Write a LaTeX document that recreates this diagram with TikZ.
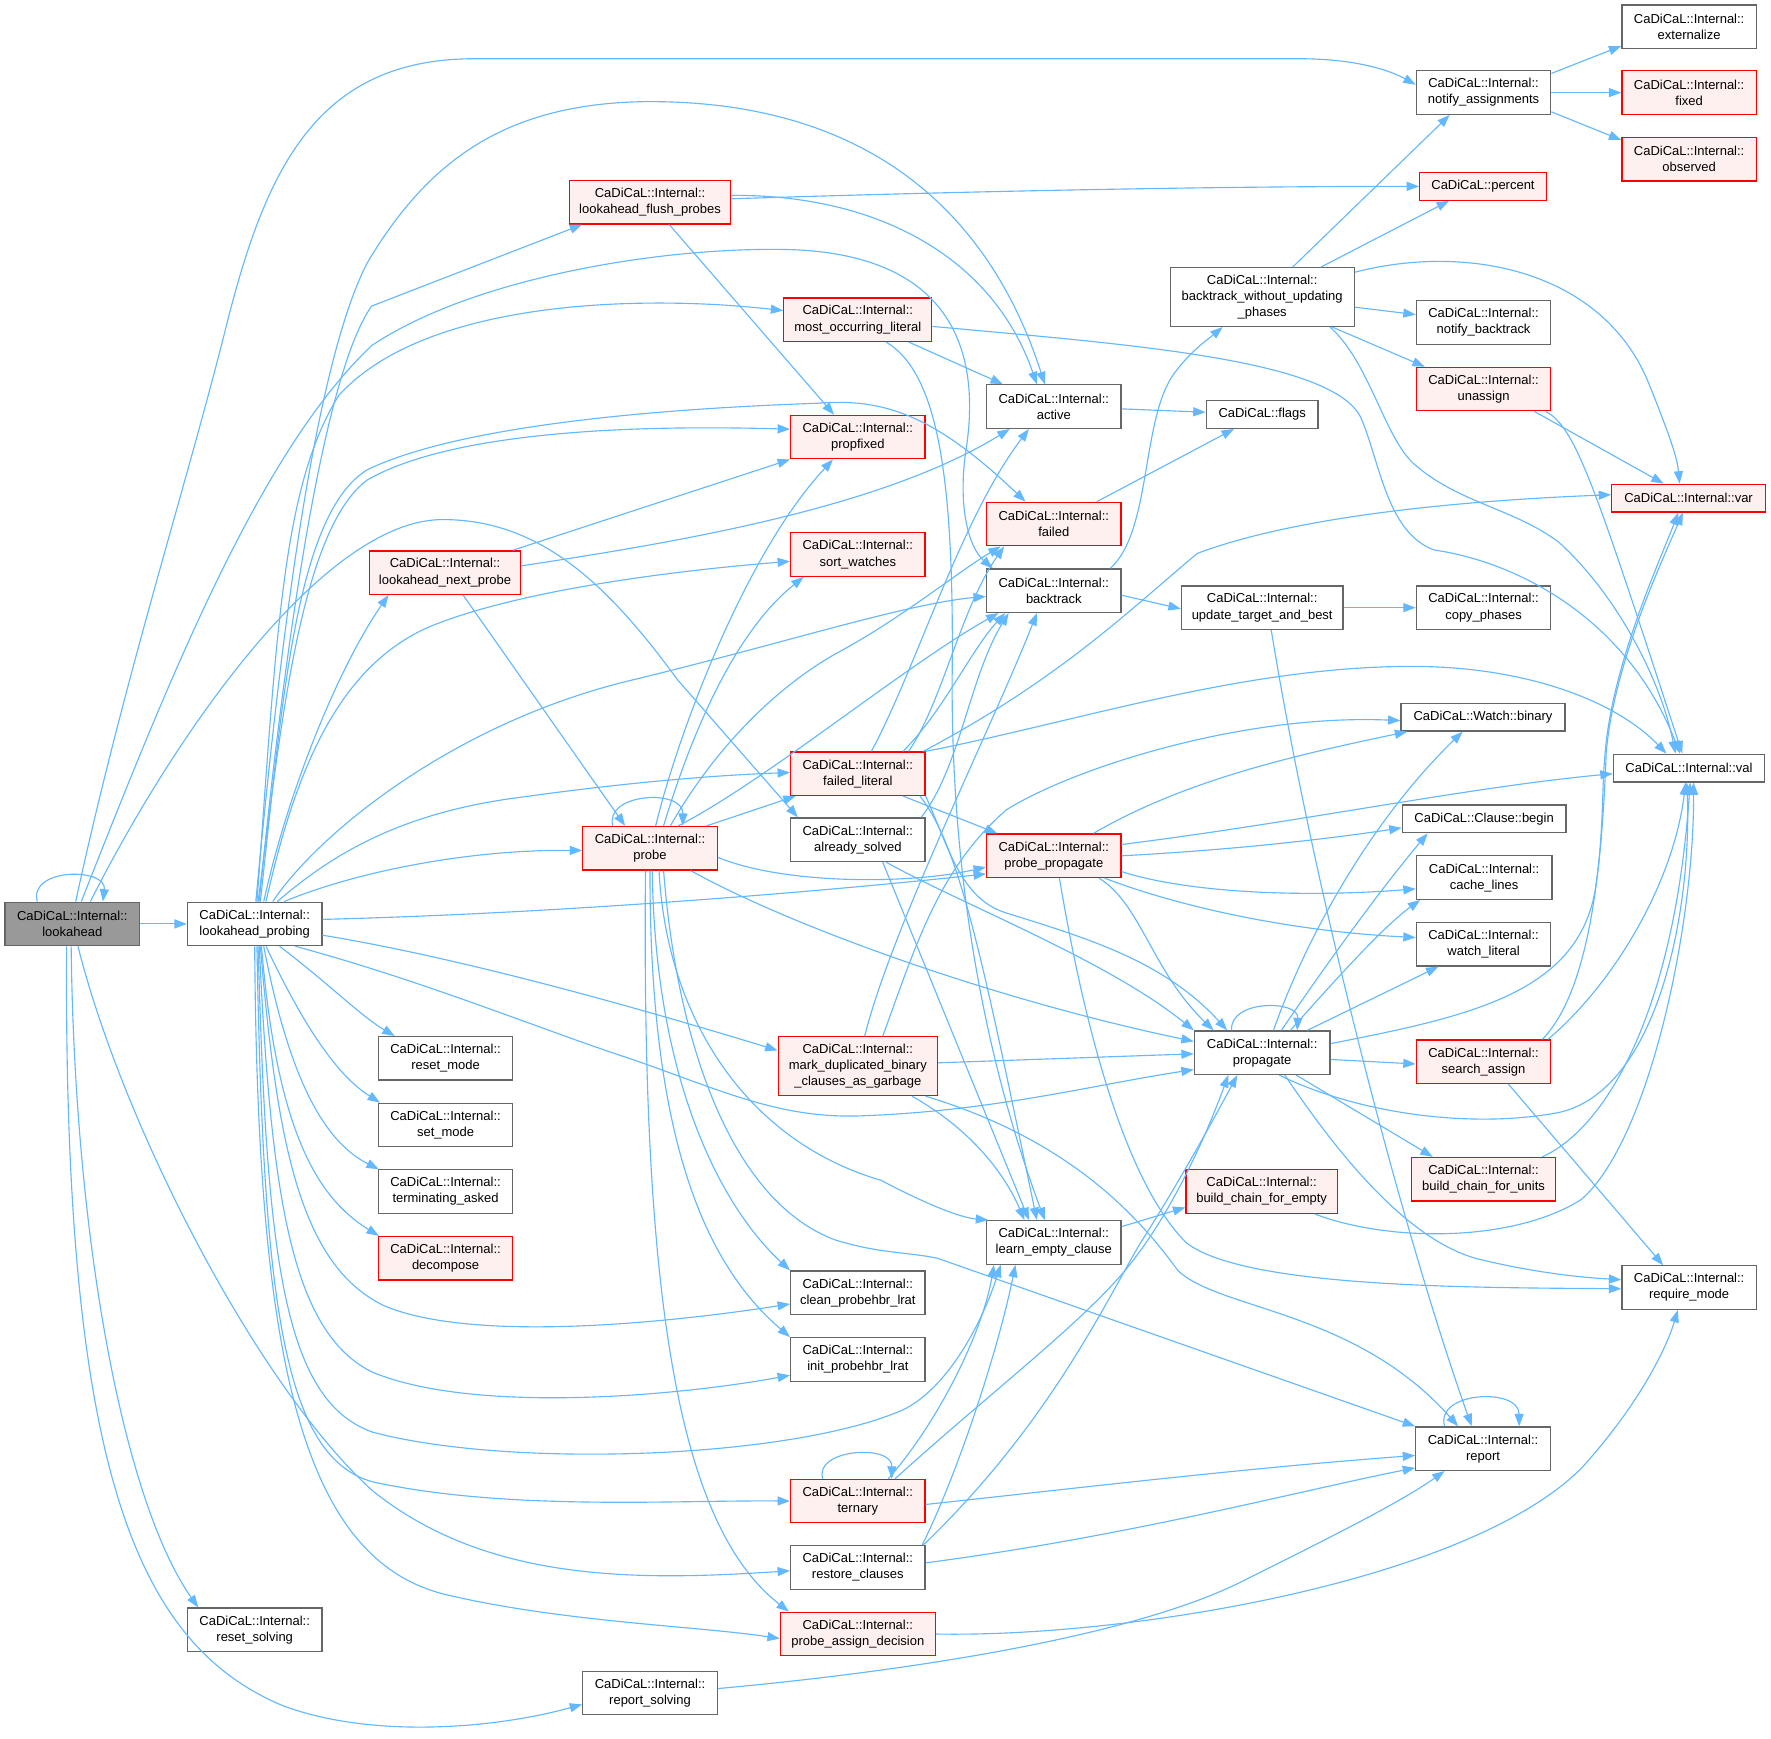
\documentclass[tikz,border=0pt]{standalone}
\usepackage{fontspec}
\setmainfont{Liberation Sans}
\usetikzlibrary{arrows.meta}
\definecolor{edgeblue}{HTML}{63B8FF}
\definecolor{nodegray}{HTML}{666666}
\definecolor{rootfill}{HTML}{999999}
\definecolor{redfill}{HTML}{FFF0F0}
\newcommand{\cdi}{CaDiCaL::Internal::}
\newcommand{\fnfont}{\fontsize{11.5}{14.2}\selectfont}
\tikzset{
  fn/.style={draw=nodegray, fill=white, line width=1.1pt, align=center, inner sep=0pt,
    minimum width=119pt, minimum height=38.5pt, font=\fnfont},
  fnred/.style={fn, draw=red, fill=redfill},
  fnroot/.style={fn, fill=rootfill},
  oneline/.style={minimum height=24.5pt},
  threeline/.style={minimum height=52pt},
  call/.style={draw=edgeblue, line width=1pt, -{Triangle[length=11pt,width=8pt]}}
}
\begin{document}
\begin{tikzpicture}[x=1pt,y=-1pt]
\path[use as bounding box, fill=white] (0,0) rectangle (1568,1539);
\node[fnroot] (la) at (64,818) {\cdi\\lookahead};
\node[fn] (lp) at (225.5,818) {\cdi\\lookahead\_probing};
\node[fn] (rs) at (225.5,1443) {\cdi\\reset\_solving};
\node[fn] (rps) at (575.5,1499) {\cdi\\report\_solving};
\node[fnred, minimum width=143pt] (lfp) at (575.5,179) {\cdi\\lookahead\_flush\_probes};
\node[fnred, minimum width=134pt] (lnp) at (394,507) {\cdi\\lookahead\_next\_probe};
\node[fn] (rm) at (394.5,937) {\cdi\\reset\_mode};
\node[fn] (sm) at (394.5,996) {\cdi\\set\_mode};
\node[fn] (ta) at (394.5,1055) {\cdi\\terminating\_asked};
\node[fnred] (dc) at (394.5,1114) {\cdi\\decompose};
\node[fnred] (pr) at (575.5,751) {\cdi\\probe};
\node[fnred, minimum width=131pt] (mol) at (759.5,283) {\cdi\\most\_occurring\_literal};
\node[fnred] (pf) at (759.5,387) {\cdi\\propfixed};
\node[fnred] (sw) at (759.5,491) {\cdi\\sort\_watches};
\node[fnred] (fl) at (759.5,685) {\cdi\\failed\_literal};
\node[fn] (slv) at (759.5,743.5) {\cdi\\already\_solved};
\node[fnred, threeline, minimum width=141pt] (mdb) at (759.5,944) {\cdi\\mark\_duplicated\_binary\\\_clauses\_as\_garbage};
\node[fn] (cpl) at (759.5,1144.5) {\cdi\\clean\_probehbr\_lrat};
\node[fn] (ipl) at (759.5,1203.6) {\cdi\\init\_probehbr\_lrat};
\node[fnred] (ter) at (759.5,1329) {\cdi\\ternary};
\node[fn] (rc) at (759.5,1387.7) {\cdi\\restore\_clauses};
\node[fnred, minimum width=137pt] (pad) at (759.5,1446.7) {\cdi\\probe\_assign\_decision};
\node[fn] (act) at (933,360) {\cdi\\active};
\node[fnred] (fd) at (933,464) {\cdi\\failed};
\node[fn] (bt) at (933,523) {\cdi\\backtrack};
\node[fnred] (pp) at (933,757.7) {\cdi\\probe\_propagate};
\node[fn] (lec) at (933,1100) {\cdi\\learn\_empty\_clause};
\node[fn, threeline, minimum width=163pt] (bwu) at (1117.5,263) {\cdi\\backtrack\_without\_updating\\\_phases};
\node[fn, oneline, minimum width=99pt] (fg) at (1117.5,367) {CaDiCaL::flags};
\node[fn, minimum width=143pt] (utb) at (1117.5,538) {\cdi\\update\_target\_and\_best};
\node[fn, minimum width=120pt] (prop) at (1117.5,932) {\cdi\\propagate};
\node[fnred, minimum width=134pt] (bce) at (1117,1055) {\cdi\\build\_chain\_for\_empty};
\node[fn] (na) at (1313.5,82) {\cdi\\notify\_assignments};
\node[fnred, oneline, minimum width=112pt] (pc) at (1313,165) {CaDiCaL::percent};
\node[fn] (nb) at (1313.5,285.5) {\cdi\\notify\_backtrack};
\node[fnred] (ua) at (1313.5,344.5) {\cdi\\unassign};
\node[fn] (cp) at (1313.5,538) {\cdi\\copy\_phases};
\node[fn, oneline, minimum width=145pt] (wb) at (1313,635) {CaDiCaL::Watch::binary};
\node[fn, oneline, minimum width=145pt] (cb) at (1314,725) {CaDiCaL::Clause::begin};
\node[fn, minimum width=120pt] (cl) at (1314,777) {\cdi\\cache\_lines};
\node[fn] (wl) at (1313.5,836) {\cdi\\watch\_literal};
\node[fnred] (sa) at (1313.5,940) {\cdi\\search\_assign};
\node[fnred, minimum width=127pt] (bcu) at (1313.5,1044) {\cdi\\build\_chain\_for\_units};
\node[fn] (rep) at (1313,1282.6) {\cdi\\report};
\node[fn] (ext) at (1495.5,23.7) {\cdi\\externalize};
\node[fnred] (fx) at (1495.5,82) {\cdi\\fixed};
\node[fnred] (obs) at (1495.5,141) {\cdi\\observed};
\node[fnred, oneline, minimum width=136pt] (var) at (1495,441) {CaDiCaL::Internal::var};
\node[fn, oneline, minimum width=134pt] (val) at (1495.4,680) {CaDiCaL::Internal::val};
\node[fn] (rqm) at (1495.5,1140) {\cdi\\require\_mode};
% lookahead
\draw[call] ([xshift=-31pt]la.north) .. controls (25,768) and (95,768) .. ([xshift=27pt]la.north);
\draw[call] (la.east) -- (lp.west);
\draw[call] ([xshift=3pt]la.north) .. controls (110,600) and (165,430) .. (200,290) .. controls (235,150) and (280,52) .. (420,52) -- (1150,52) .. controls (1200,52) and (1230,62) .. ([yshift=7pt]na.west);
\draw[call] ([xshift=8pt]la.north) .. controls (150,600) and (230,400) .. (329,306) .. controls (420,245) and (590,218) .. (700,221) .. controls (850,226) and (868,320) .. (855,400) .. controls (848,450) and (858,485) .. ([xshift=6pt]bt.north west);
\draw[call] ([xshift=16pt]la.north) .. controls (160,640) and (290,460) .. (392,460) .. controls (480,460) and (540,520) .. (600,602) -- ([xshift=7pt]slv.north west);
\draw[call] ([xshift=5pt]la.south) .. controls (110,1000) and (230,1230) .. (330,1320) .. controls (430,1400) and (560,1400) .. ([yshift=-3pt]rc.west);
\draw[call] ([xshift=-1pt]la.south) .. controls (66,1100) and (110,1330) .. ([xshift=-50pt]rs.north);
\draw[call] ([xshift=-5pt]la.south) .. controls (56,1300) and (120,1455) .. (250,1510) .. controls (330,1540) and (440,1530) .. ([yshift=-10pt]rps.west);
% lookahead_probing
\draw[call] ([xshift=4pt]lp.north) .. controls (245,640) and (280,340) .. (329,271) -- ([xshift=12pt]lfp.south west);
\draw[call] ([xshift=1pt]lp.north) .. controls (245,600) and (275,330) .. (325,233) .. controls (380,140) and (450,92) .. (570,90) .. controls (780,88) and (880,200) .. ([xshift=-8pt]act.north);
\draw[call] ([xshift=2pt]lp.north) .. controls (245,560) and (250,430) .. (300,350) .. controls (380,262) and (580,262) .. ([yshift=8pt]mol.west);
\draw[call] ([xshift=3pt]lp.north) .. controls (248,650) and (265,470) .. (325,425) .. controls (400,382) and (560,376) .. ([yshift=7pt]pf.west);
\draw[call] ([xshift=5pt]lp.north) .. controls (250,620) and (262,455) .. (325,416) .. controls (420,370) and (640,360) .. (724,357) .. controls (785,352) and (830,370) .. ([xshift=-25pt]fd.north);
\draw[call] ([xshift=8pt]lp.north) .. controls (255,700) and (300,590) .. ([xshift=-50pt]lnp.south);
\draw[call] ([xshift=10pt]lp.north) .. controls (262,680) and (300,590) .. (380,555) .. controls (460,522) and (600,505) .. ([yshift=-6pt]sw.west);
\draw[call] ([xshift=16pt]lp.north) .. controls (280,740) and (400,640) .. (560,602) .. controls (700,568) and (800,535) .. ([yshift=-5pt]bt.west);
\draw[call] ([xshift=20pt]lp.north) .. controls (290,760) and (350,720) .. (460,706) .. controls (560,692) and (640,686) .. ([yshift=1pt]fl.west);
\draw[call] ([xshift=26pt]lp.north) .. controls (320,770) and (420,752) .. ([yshift=-2pt]pr.west);
\draw[call] ([yshift=4pt]lp.east) .. controls (520,808) and (760,786) .. ([yshift=-16pt]pp.west);
\draw[call] ([yshift=-10pt]lp.east) .. controls (420,850) and (590,900) .. ([yshift=14pt]mdb.west);
\draw[call] ([xshift=36pt]lp.south) .. controls (380,870) and (480,912) .. (560,938) .. controls (640,966) and (690,990) .. (760,988) .. controls (880,984) and (970,960) .. ([yshift=-15pt]prop.west);
\draw[call] ([xshift=22pt]lp.south) .. controls (290,870) and (320,900) .. ([xshift=-45pt]rm.north);
\draw[call] ([xshift=10pt]lp.south) .. controls (265,900) and (295,950) .. ([xshift=2pt]sm.north west);
\draw[call] ([xshift=8pt]lp.south) .. controls (255,950) and (285,1010) .. ([xshift=1pt]ta.north west);
\draw[call] ([xshift=6pt]lp.south) .. controls (245,1000) and (280,1060) .. ([xshift=1pt]dc.north west);
\draw[call] ([xshift=5pt]lp.south) .. controls (245,1010) and (265,1120) .. (340,1156) .. controls (420,1190) and (600,1170) .. ([yshift=-10pt]cpl.west);
\draw[call] ([xshift=4pt]lp.south) .. controls (240,1060) and (258,1180) .. (330,1215) .. controls (420,1252) and (600,1236) .. ([yshift=-14pt]ipl.west);
\draw[call] ([xshift=3pt]lp.south) .. controls (236,1110) and (250,1240) .. (330,1268) .. controls (450,1300) and (700,1292) .. (800,1248) .. controls (840,1228) and (870,1170) .. ([xshift=-47pt]lec.south);
\draw[call] ([xshift=2pt]lp.south) .. controls (233,1150) and (250,1290) .. (330,1312) .. controls (450,1338) and (600,1328) .. (ter.west);
\draw[call] (lp.south) .. controls (228,1200) and (265,1385) .. (400,1413) .. controls (500,1436) and (620,1440) .. ([yshift=-4pt]pad.west);
% lookahead_flush_probes, lookahead_next_probe, most_occurring_literal
\draw[call] ([yshift=3pt]lfp.east) .. controls (900,168) and (1100,165) .. (pc.west);
\draw[call] ([yshift=6pt]lfp.east) .. controls (780,172) and (880,230) .. ([xshift=-15pt]act.north);
\draw[call] ([xshift=17pt]lfp.south) -- ([xshift=-21pt]pf.north);
\draw[call] ([xshift=60pt]lnp.north) -- (pf.south west);
\draw[call] ([yshift=6pt]lnp.east) .. controls (600,480) and (780,450) .. ([xshift=-39pt]act.south);
\draw[call] ([xshift=16pt]lnp.south) -- ([xshift=-22pt]pr.north);
\draw[call] ([xshift=45pt]mol.south) -- ([xshift=-45pt]act.north);
\draw[call] ([yshift=-6pt]mol.east) .. controls (1000,305) and (1180,318) .. (1205,370) .. controls (1222,410) and (1228,472) .. (1270,487) .. controls (1340,497) and (1440,545) .. ([xshift=-8pt]val.north);
\draw[call] ([xshift=25pt]mol.south) .. controls (830,330) and (845,420) .. (843,600) .. controls (842,800) and (880,960) .. ([xshift=-8pt]lec.north);
% probe
\draw[call] ([xshift=-33pt]pr.north) .. controls (535,702) and (605,698) .. ([xshift=29pt]pr.north);
\draw[call] ([xshift=5pt]pr.north) .. controls (600,650) and (660,490) .. ([xshift=-22pt]pf.south);
\draw[call] ([xshift=12pt]pr.north) .. controls (612,650) and (650,560) .. ([xshift=-48pt]sw.south);
\draw[call] ([xshift=18pt]pr.north) .. controls (640,650) and (700,600) .. (745,576) .. controls (800,546) and (850,505) .. ([xshift=-47pt]fd.south);
\draw[call] ([xshift=25pt]pr.north) .. controls (680,690) and (800,590) .. ([xshift=-49pt]bt.south);
\draw[call] ([xshift=50pt]pr.north) -- ([xshift=-55pt]fl.south);
\draw[call] ([yshift=-8pt]pr.east) .. controls (690,782) and (800,784) .. ([yshift=-10pt]pp.west);
\draw[call] ([xshift=36pt]pr.south) .. controls (700,820) and (880,885) .. ([yshift=10pt]prop.west);
\draw[call] ([xshift=8pt]pr.south) .. controls (590,900) and (660,1010) .. (780,1045) .. controls (820,1066) and (850,1078) .. ([xshift=2pt]lec.north west);
\draw[call] ([xshift=12pt]pr.south) .. controls (600,930) and (650,1065) .. (740,1098) .. controls (780,1110) and (800,1108) .. (830,1114) -- (rep.north west);
\draw[call] ([xshift=2pt]pr.south) .. controls (580,960) and (640,1070) .. (cpl.north west);
\draw[call] (pr.south) .. controls (575,1010) and (625,1120) .. (ipl.north west);
\draw[call] ([xshift=-4pt]pr.south) .. controls (568,1150) and (600,1350) .. ([xshift=8pt]pad.north west);
% failed_literal, already_solved
\draw[call] ([xshift=12pt]fl.north) .. controls (812,590) and (850,460) .. ([xshift=-22pt]act.south);
\draw[call] ([xshift=45pt]fl.north) .. controls (835,620) and (850,540) .. ([xshift=-44pt]fd.south);
\draw[call] ([xshift=40pt]fl.north) .. controls (835,630) and (860,575) .. ([xshift=-43pt]bt.south);
\draw[call] ([xshift=58pt]fl.north) .. controls (940,600) and (1000,540) .. (1060,490) .. controls (1150,456) and (1300,443) .. ([yshift=3pt]var.west);
\draw[call] (fl.north east) .. controls (950,640) and (1100,590) .. (1250,590) .. controls (1350,590) and (1430,620) .. ([xshift=-20pt]val.north);
\draw[call] ([xshift=40pt]fl.south) -- ([xshift=-50pt]pp.north);
\draw[call] ([xshift=55pt]fl.south) .. controls (850,750) and (870,850) .. ([xshift=-15pt]lec.north);
\draw[call] (fl.south east) .. controls (840,750) and (850,795) .. (890,808) .. controls (960,830) and (1030,850) .. ([xshift=-31pt]prop.north);
\draw[call] ([xshift=56pt]slv.north) .. controls (850,680) and (858,600) .. ([xshift=-40pt]bt.south);
\draw[call] ([xshift=22pt]slv.south) -- ([xshift=-22pt]lec.north);
\draw[call] ([xshift=25pt]slv.south) .. controls (850,800) and (980,850) .. (prop.north west);
% failed, active, backtrack
\draw[call] ([xshift=38pt]fd.north) -- ([xshift=-25pt]fg.south);
\draw[call] ([yshift=-2pt]act.east) -- ([yshift=2pt]fg.west);
\draw[call] ([xshift=50pt]bt.north) .. controls (1020,470) and (1010,370) .. (1040,330) .. controls (1055,310) and (1070,300) .. ([xshift=-35pt]bwu.south);
\draw[call] ([yshift=-4pt]bt.east) -- ([yshift=-1pt]utb.west);
% probe_propagate
\draw[call] ([xshift=35pt]pp.north) .. controls (1050,690) and (1150,668) .. ([xshift=6pt]wb.south west);
\draw[call] ([yshift=10pt]pp.east) .. controls (1150,728) and (1300,697) .. ([yshift=-5pt]val.west);
\draw[call] (pp.east) .. controls (1100,752) and (1180,742) .. ([yshift=-8pt]cb.west);
\draw[call] ([yshift=-14pt]pp.east) .. controls (1050,790) and (1150,795) .. ([yshift=-10pt]cl.west);
\draw[call] ([xshift=45pt]pp.south) .. controls (1050,805) and (1150,825) .. ([yshift=6pt]wl.west);
\draw[call] ([xshift=40pt]pp.south) .. controls (1010,800) and (1020,860) .. ([xshift=-43pt]prop.north);
\draw[call] ([xshift=5pt]pp.south) .. controls (955,880) and (990,1040) .. (1050,1100) .. controls (1100,1140) and (1300,1140) .. ([yshift=-1pt]rqm.west);
% mark_duplicated_binary_clauses_as_garbage
\draw[call] ([xshift=22pt]mdb.north) .. controls (810,840) and (830,770) .. (891,717) .. controls (950,680) and (1100,632) .. ([yshift=-3pt]wb.west);
\draw[call] ([xshift=6pt]mdb.north) .. controls (790,820) and (880,640) .. ([xshift=-15pt]bt.south);
\draw[call] ([yshift=3pt]mdb.east) -- ([yshift=-1pt]prop.west);
\draw[call] ([xshift=48pt]mdb.south) .. controls (860,1000) and (890,1040) .. ([xshift=-26pt]lec.north);
\draw[call] ([xshift=60pt]mdb.south) .. controls (950,1010) and (1010,1080) .. (1043,1125) .. controls (1080,1160) and (1200,1160) .. ([xshift=-22pt]rep.north);
% propagate
\draw[call] ([xshift=-27pt]prop.north) .. controls (1088,885) and (1150,885) .. ([xshift=31pt]prop.north);
\draw[call] ([xshift=10pt]prop.north) .. controls (1160,820) and (1220,720) .. ([xshift=-18pt]wb.south);
\draw[call] ([xshift=17pt]prop.north) .. controls (1170,860) and (1220,790) .. ([xshift=-50pt]cb.south);
\draw[call] ([xshift=25pt]prop.north) .. controls (1180,870) and (1225,820) .. ([xshift=4pt]cl.south west);
\draw[call] ([xshift=40pt]prop.north) -- ([xshift=-40pt]wl.south);
\draw[call] ([yshift=8pt]prop.east) .. controls (1300,900) and (1395,880) .. (1412,790) .. controls (1420,740) and (1418,700) .. (1421,668) .. controls (1427,590) and (1468,500) .. ([xshift=-9pt]var.south);
\draw[call] ([yshift=-6pt]prop.east) -- ([yshift=-2pt]sa.west);
\draw[call] ([xshift=15pt]prop.south) .. controls (1200,985) and (1300,1000) .. (1380,985) .. controls (1470,965) and (1498,800) .. ([xshift=-2pt]val.south);
\draw[call] ([xshift=30pt]prop.south) -- ([xshift=-45pt]bcu.north);
\draw[call] ([xshift=20pt]prop.south) .. controls (1190,1030) and (1250,1100) .. (1310,1115) .. controls (1360,1127) and (1400,1131) .. ([yshift=7pt]rqm.west);
% backtrack_without_updating_phases, notify_assignments, unassign
\draw[call] ([xshift=27pt]bwu.north) -- ([xshift=-30pt]na.south);
\draw[call] ([xshift=52pt]bwu.north) -- ([xshift=-30pt]pc.south);
\draw[call] ([yshift=-9pt]bwu.east) -- ([yshift=7pt]nb.west);
\draw[call] ([xshift=62pt]bwu.south) -- ([xshift=-52pt]ua.north);
\draw[call] ([yshift=22pt]bwu.east) .. controls (1300,215) and (1420,240) .. (1460,340) .. controls (1478,385) and (1485,405) .. ([xshift=-8pt]var.north);
\draw[call] ([xshift=60pt]bwu.south) .. controls (1212,320) and (1225,385) .. (1251,410) .. controls (1290,445) and (1340,450) .. (1380,480) .. controls (1430,525) and (1470,600) .. ([xshift=-12pt]val.north);
\draw[call] ([yshift=17pt]na.east) -- ([yshift=-17pt]ext.west);
\draw[call] (na.east) -- (fx.west);
\draw[call] ([yshift=-17pt]na.east) -- ([yshift=17pt]obs.west);
\draw[call] ([xshift=45pt]ua.south) -- ([xshift=-22pt]var.north);
\draw[call] ([xshift=55pt]ua.south) .. controls (1395,378) and (1412,430) .. ([xshift=-6pt]val.north);
% update_target_and_best, search_assign, chains
\draw[call] (utb.east) -- (cp.west);
\draw[call] ([xshift=8pt]utb.south) .. controls (1165,800) and (1245,1100) .. ([xshift=-10pt]rep.north);
\draw[call] ([xshift=52pt]sa.north) .. controls (1405,880) and (1418,780) .. (1422,668) .. controls (1428,590) and (1470,500) .. ([xshift=-5pt]var.south);
\draw[call] ([xshift=57pt]sa.north) .. controls (1430,870) and (1482,780) .. ([xshift=-3pt]val.south);
\draw[call] ([xshift=22pt]sa.south) -- ([xshift=-23pt]rqm.north);
\draw[call] ([xshift=52pt]bcu.north) .. controls (1420,1000) and (1482,900) .. ([xshift=1pt]val.south);
\draw[call] ([yshift=14pt]lec.east) -- ([yshift=-14pt]bce.west);
\draw[call] ([xshift=47pt]bce.south) .. controls (1230,1100) and (1340,1100) .. (1400,1062) .. controls (1460,1010) and (1500,820) .. ([xshift=4pt]val.south);
% report, ternary, restore_clauses, probe_assign_decision, report_solving
\draw[call] ([xshift=-34pt]rep.north) .. controls (1270,1232) and (1345,1228) .. ([xshift=32pt]rep.north);
\draw[call] ([xshift=-31pt]ter.north) .. controls (720,1283) and (790,1278) .. ([xshift=30pt]ter.north);
\draw[call] ([xshift=33pt]ter.north) .. controls (880,1230) and (960,1170) .. (1000,1120) .. controls (1040,1070) and (1070,1000) .. ([xshift=-30pt]prop.south);
\draw[call] ([xshift=27pt]ter.north) .. controls (830,1260) and (870,1180) .. ([xshift=-53pt]lec.south);
\draw[call] ([yshift=-3pt]ter.east) .. controls (950,1318) and (1100,1300) .. ([yshift=-6pt]rep.west);
\draw[call] ([xshift=57pt]rc.north) .. controls (850,1300) and (885,1190) .. ([xshift=-34pt]lec.south);
\draw[call] ([xshift=58pt]rc.north) .. controls (930,1260) and (980,1150) .. (1010,1100) .. controls (1045,1045) and (1075,990) .. ([xshift=-22pt]prop.south);
\draw[call] ([yshift=4pt]rc.east) .. controls (1000,1360) and (1150,1320) .. ([yshift=-17pt]rep.west);
\draw[call] (pad.east) .. controls (1000,1450) and (1300,1400) .. (1400,1300) .. controls (1450,1245) and (1475,1195) .. ([xshift=-10pt]rqm.south);
\draw[call] ([yshift=4pt]rps.east) .. controls (800,1480) and (1000,1450) .. (1100,1400) .. controls (1180,1360) and (1240,1330) .. ([xshift=-34pt]rep.south);
\end{tikzpicture}
\end{document}
